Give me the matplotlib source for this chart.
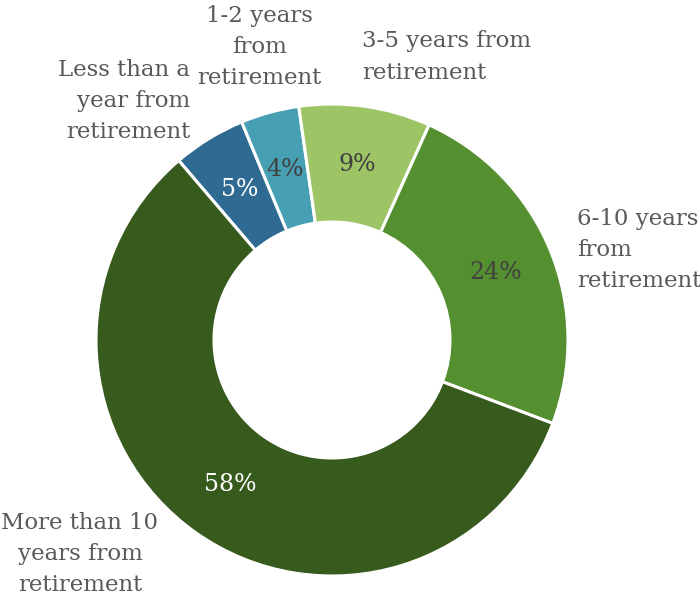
import matplotlib
matplotlib.use("Agg")
import matplotlib.pyplot as plt

# data, in clockwise order starting from "Less than a year"
categories = ["Less than a\nyear from\nretirement",
              "1-2 years\nfrom\nretirement",
              "3-5 years from\nretirement",
              "6-10 years\nfrom\nretirement",
              "More than 10\nyears from\nretirement"]
shares = [5, 4, 9, 24, 58]
colors = ["#2E6A92", "#479FB3", "#9DC465", "#548F30", "#375A1D"]
pct_colors = ["white", "#404040", "#404040", "#404040", "white"]

# label placement (data coords, pie radius = 1) and alignment
label_pos = [(-0.60, 1.013), (-0.309, 1.242), (0.127, 1.199), (1.038, 0.381), (-1.068, -0.907)]
label_ha = ["right", "center", "left", "left", "center"]

fig = plt.figure(figsize=(7, 6.01), dpi=100)
ax = fig.add_axes([0, 0, 1, 1])

wedges, texts, autotexts = ax.pie(
    shares, colors=colors, startangle=130.5, counterclock=False,
    radius=1.0, autopct="%d%%", pctdistance=0.75,
    wedgeprops=dict(width=0.5, edgecolor="white", linewidth=2.2),
    textprops=dict(family="DejaVu Serif", fontsize=17))

for t, c in zip(autotexts, pct_colors):
    t.set_color(c)

for cat, (x, y), ha in zip(categories, label_pos, label_ha):
    ax.text(x, y, cat, ha=ha, va="center", multialignment=ha,
            family="DejaVu Serif", fontsize=16.5, color="#595959", linespacing=1.55)

ax.set_xlim(-332 / 236, (700 - 332) / 236)
ax.set_ylim(-(601 - 340) / 236, 340 / 236)
ax.set_aspect("equal")
ax.axis("off")

fig.savefig("out.png", dpi=100)
